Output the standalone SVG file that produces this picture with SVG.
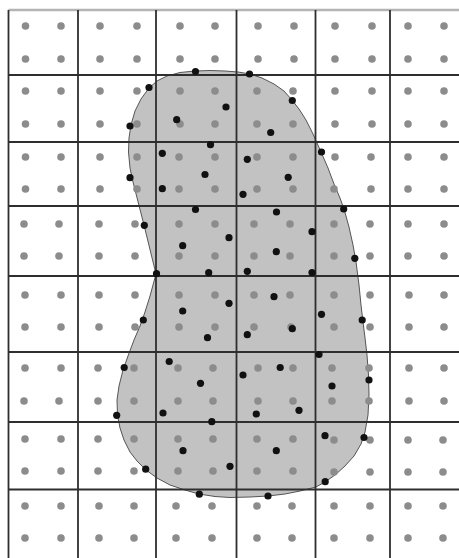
<svg xmlns="http://www.w3.org/2000/svg" width="459" height="558" viewBox="0 0 459 558">
<defs>
<style>
.g{fill:#8c8c8c}
.b{fill:#111}
.ln{stroke:#2e2e2e;stroke-width:1.8;fill:none}
</style>
<circle id="gd" r="3.8" class="g"/>
<circle id="bd" r="3.6" class="b"/>
</defs>
<rect width="459" height="558" fill="#fff"/>
<g id="blob">
<path d="M149,88 L157,81 L167,76 L180,72.5 L195,71 L210,70.5 L225,71 L238,72 L250,74 L262,78 L274,84 L284,91 L292,100 L299,109 L306,120 L313,134 L321,152 L328,168 L334,184 L340,198 L344,209 L349,227 L353,245 L356,262 L359,285 L361,305 L363,322 L365,338 L367,355 L368.5,375 L369,395 L368,415 L365,432 L361,444 L354,456 L345,466 L335,475 L325,482 L316,487 L300,491 L285,494 L268,496 L250,497 L230,497.5 L215,496.5 L199,494 L185,490 L170,485 L157,478 L146,470 L137,461 L130,452 L124,440 L120,428 L117.5,415 L117,400 L119,386 L123,370 L128,356 L134,340 L140,326 L145,312 L150,296 L156,274 L144,225 L133,182 L130,168 L128.5,152 L129,138 L131,125 L135,111 L141,99 Z" fill="#c2c2c2" stroke="#555" stroke-width="1" stroke-linejoin="round"/>
</g>
<g id="grid">
<line x1="8.5" y1="10" x2="459" y2="10" stroke="#b4b4b4" stroke-width="2.5"/>
<line class="ln" x1="8.5" y1="75" x2="459" y2="75"/>
<line class="ln" x1="8.5" y1="142" x2="459" y2="142"/>
<line class="ln" x1="8.5" y1="206" x2="459" y2="206"/>
<line class="ln" x1="8.5" y1="276" x2="459" y2="276"/>
<line class="ln" x1="8.5" y1="352" x2="459" y2="352"/>
<line class="ln" x1="8.5" y1="422" x2="459" y2="422"/>
<line class="ln" x1="8.5" y1="489.5" x2="459" y2="489.5"/>
<line class="ln" x1="8.5" y1="10" x2="8.5" y2="558"/>
<line class="ln" x1="78" y1="10" x2="78" y2="558"/>
<line class="ln" x1="156" y1="10" x2="156" y2="558"/>
<line class="ln" x1="236.5" y1="10" x2="236.5" y2="558"/>
<line class="ln" x1="315.5" y1="10" x2="315.5" y2="558"/>
<line class="ln" x1="390" y1="10" x2="390" y2="558"/>
</g>
<g id="grid-dots">
<g id="row1"><use href="#gd" x="25.5" y="26"/><use href="#gd" x="61" y="26"/><use href="#gd" x="100" y="26"/><use href="#gd" x="137" y="26"/><use href="#gd" x="180" y="26"/><use href="#gd" x="215" y="26"/><use href="#gd" x="258" y="26"/><use href="#gd" x="294" y="26"/><use href="#gd" x="335" y="26"/><use href="#gd" x="372" y="26"/><use href="#gd" x="408" y="26"/><use href="#gd" x="444" y="26"/></g>
<g id="row2"><use href="#gd" x="25.5" y="59"/><use href="#gd" x="61" y="59"/><use href="#gd" x="100" y="59"/><use href="#gd" x="137" y="59"/><use href="#gd" x="180" y="59"/><use href="#gd" x="215" y="59"/><use href="#gd" x="258" y="59"/><use href="#gd" x="294" y="59"/><use href="#gd" x="335" y="59"/><use href="#gd" x="372" y="59"/><use href="#gd" x="408" y="59"/><use href="#gd" x="444" y="59"/></g>
<g id="row3"><use href="#gd" x="25.5" y="91"/><use href="#gd" x="61" y="91"/><use href="#gd" x="100" y="91"/><use href="#gd" x="137" y="91"/><use href="#gd" x="180" y="91"/><use href="#gd" x="215" y="91"/><use href="#gd" x="257" y="91"/><use href="#gd" x="293" y="91"/><use href="#gd" x="335" y="91"/><use href="#gd" x="372" y="91"/><use href="#gd" x="408" y="91"/><use href="#gd" x="444" y="91"/></g>
<g id="row4"><use href="#gd" x="25.5" y="124"/><use href="#gd" x="61" y="124"/><use href="#gd" x="100" y="124"/><use href="#gd" x="137" y="124"/><use href="#gd" x="180" y="124"/><use href="#gd" x="215" y="124"/><use href="#gd" x="257" y="124"/><use href="#gd" x="293" y="124"/><use href="#gd" x="335" y="124"/><use href="#gd" x="372" y="124"/><use href="#gd" x="408" y="124"/><use href="#gd" x="444" y="124"/></g>
<g id="row5"><use href="#gd" x="25.5" y="157"/><use href="#gd" x="61" y="157"/><use href="#gd" x="100" y="157"/><use href="#gd" x="137" y="157"/><use href="#gd" x="179" y="157"/><use href="#gd" x="215" y="157"/><use href="#gd" x="257" y="157"/><use href="#gd" x="293" y="157"/><use href="#gd" x="335" y="157"/><use href="#gd" x="371" y="157"/><use href="#gd" x="408" y="157"/><use href="#gd" x="444" y="157"/></g>
<g id="row6"><use href="#gd" x="25.5" y="189"/><use href="#gd" x="61" y="189"/><use href="#gd" x="100" y="189"/><use href="#gd" x="137" y="189"/><use href="#gd" x="179" y="189"/><use href="#gd" x="215" y="189"/><use href="#gd" x="257" y="189"/><use href="#gd" x="293" y="189"/><use href="#gd" x="334" y="189"/><use href="#gd" x="371" y="189"/><use href="#gd" x="408" y="189"/><use href="#gd" x="444" y="189"/></g>
<g id="row7"><use href="#gd" x="24" y="224"/><use href="#gd" x="59" y="224"/><use href="#gd" x="99" y="224"/><use href="#gd" x="135" y="224"/><use href="#gd" x="179" y="224"/><use href="#gd" x="215" y="224"/><use href="#gd" x="254" y="224"/><use href="#gd" x="290" y="224"/><use href="#gd" x="334" y="224"/><use href="#gd" x="370" y="224"/><use href="#gd" x="408" y="224"/><use href="#gd" x="444" y="224"/></g>
<g id="row8"><use href="#gd" x="24" y="256"/><use href="#gd" x="59" y="256"/><use href="#gd" x="99" y="256"/><use href="#gd" x="135" y="256"/><use href="#gd" x="179" y="256"/><use href="#gd" x="215" y="256"/><use href="#gd" x="254" y="256"/><use href="#gd" x="290" y="256"/><use href="#gd" x="334" y="256"/><use href="#gd" x="370" y="256"/><use href="#gd" x="408" y="256"/><use href="#gd" x="444" y="256"/></g>
<g id="row9"><use href="#gd" x="25" y="295"/><use href="#gd" x="61" y="295"/><use href="#gd" x="99" y="295"/><use href="#gd" x="135" y="295"/><use href="#gd" x="179" y="295"/><use href="#gd" x="215" y="295"/><use href="#gd" x="254" y="295"/><use href="#gd" x="290" y="295"/><use href="#gd" x="334" y="295"/><use href="#gd" x="370" y="295"/><use href="#gd" x="409" y="295"/><use href="#gd" x="444" y="295"/></g>
<g id="row10"><use href="#gd" x="25" y="327"/><use href="#gd" x="61" y="327"/><use href="#gd" x="99" y="327"/><use href="#gd" x="135" y="327"/><use href="#gd" x="179" y="327"/><use href="#gd" x="215" y="327"/><use href="#gd" x="254" y="327"/><use href="#gd" x="291" y="327"/><use href="#gd" x="334" y="327"/><use href="#gd" x="370" y="327"/><use href="#gd" x="409" y="327"/><use href="#gd" x="444" y="327"/></g>
<g id="row11"><use href="#gd" x="25" y="368"/><use href="#gd" x="61" y="368"/><use href="#gd" x="98" y="368"/><use href="#gd" x="134" y="368"/><use href="#gd" x="178" y="368"/><use href="#gd" x="213" y="368"/><use href="#gd" x="258" y="368"/><use href="#gd" x="293" y="368"/><use href="#gd" x="332" y="368"/><use href="#gd" x="369" y="368"/><use href="#gd" x="409" y="368"/><use href="#gd" x="444" y="368"/></g>
<g id="row12"><use href="#gd" x="24" y="401"/><use href="#gd" x="59" y="401"/><use href="#gd" x="98" y="401"/><use href="#gd" x="134" y="401"/><use href="#gd" x="178" y="401"/><use href="#gd" x="213" y="401"/><use href="#gd" x="258" y="401"/><use href="#gd" x="293" y="401"/><use href="#gd" x="332" y="401"/><use href="#gd" x="369" y="401"/><use href="#gd" x="409" y="401"/><use href="#gd" x="444" y="401"/></g>
<g id="row13"><use href="#gd" x="25" y="439"/><use href="#gd" x="61" y="439"/><use href="#gd" x="98" y="439"/><use href="#gd" x="134" y="439"/><use href="#gd" x="178" y="439"/><use href="#gd" x="213" y="439"/><use href="#gd" x="257" y="439"/><use href="#gd" x="293" y="439"/><use href="#gd" x="334" y="440"/><use href="#gd" x="370" y="440"/><use href="#gd" x="408" y="440"/><use href="#gd" x="443" y="440"/></g>
<g id="row14"><use href="#gd" x="25" y="471"/><use href="#gd" x="61" y="471"/><use href="#gd" x="98" y="471"/><use href="#gd" x="134" y="471"/><use href="#gd" x="178" y="471"/><use href="#gd" x="213" y="471"/><use href="#gd" x="257" y="471"/><use href="#gd" x="293" y="471"/><use href="#gd" x="334" y="472"/><use href="#gd" x="370" y="472"/><use href="#gd" x="408" y="472"/><use href="#gd" x="443" y="472"/></g>
<g id="row15"><use href="#gd" x="25" y="506"/><use href="#gd" x="61" y="506"/><use href="#gd" x="99" y="506"/><use href="#gd" x="134" y="506"/><use href="#gd" x="176" y="506"/><use href="#gd" x="212" y="506"/><use href="#gd" x="257" y="506"/><use href="#gd" x="292" y="506"/><use href="#gd" x="334" y="506"/><use href="#gd" x="370" y="506"/><use href="#gd" x="408" y="506"/><use href="#gd" x="443" y="506"/></g>
<g id="row16"><use href="#gd" x="25" y="538"/><use href="#gd" x="61" y="538"/><use href="#gd" x="99" y="538"/><use href="#gd" x="134" y="538"/><use href="#gd" x="176" y="538"/><use href="#gd" x="212" y="538"/><use href="#gd" x="257" y="538"/><use href="#gd" x="292" y="538"/><use href="#gd" x="334" y="538"/><use href="#gd" x="370" y="538"/><use href="#gd" x="408" y="538"/><use href="#gd" x="443" y="538"/></g>
</g>
<g id="sample-points">
<use href="#bd" x="195.5" y="71.5"/><use href="#bd" x="249.5" y="74"/><use href="#bd" x="149" y="87.5"/><use href="#bd" x="226" y="107"/><use href="#bd" x="292.3" y="100.5"/><use href="#bd" x="176.7" y="119.7"/><use href="#bd" x="130" y="126"/><use href="#bd" x="270.7" y="132.5"/><use href="#bd" x="210.5" y="144.7"/><use href="#bd" x="162.3" y="153.3"/><use href="#bd" x="321.5" y="152"/><use href="#bd" x="247.3" y="159.3"/><use href="#bd" x="205" y="174.5"/><use href="#bd" x="130" y="177.7"/><use href="#bd" x="288.2" y="177.3"/><use href="#bd" x="162.3" y="188.7"/><use href="#bd" x="243" y="194.3"/><use href="#bd" x="195.5" y="209.5"/><use href="#bd" x="343.7" y="209"/><use href="#bd" x="276.5" y="212"/><use href="#bd" x="144.3" y="225.3"/><use href="#bd" x="229" y="237.7"/><use href="#bd" x="312" y="231.7"/><use href="#bd" x="182.7" y="245.7"/><use href="#bd" x="276.3" y="251.7"/><use href="#bd" x="354.8" y="258.3"/><use href="#bd" x="156.5" y="273.7"/><use href="#bd" x="208.7" y="272.7"/><use href="#bd" x="247.3" y="271.3"/><use href="#bd" x="312" y="272.5"/><use href="#bd" x="274" y="296.7"/><use href="#bd" x="229" y="303.3"/><use href="#bd" x="182.7" y="311"/><use href="#bd" x="143.3" y="320"/><use href="#bd" x="321.5" y="314.3"/><use href="#bd" x="362.2" y="320"/><use href="#bd" x="292.3" y="328.7"/><use href="#bd" x="247.3" y="334.7"/><use href="#bd" x="207.5" y="337.7"/><use href="#bd" x="319" y="354.5"/><use href="#bd" x="169.2" y="361.5"/><use href="#bd" x="124.2" y="367.5"/><use href="#bd" x="280.2" y="367.5"/><use href="#bd" x="243" y="375"/><use href="#bd" x="369" y="380"/><use href="#bd" x="332" y="386"/><use href="#bd" x="200.5" y="383.3"/><use href="#bd" x="116.7" y="415.3"/><use href="#bd" x="163" y="413"/><use href="#bd" x="211.8" y="421.7"/><use href="#bd" x="256.3" y="414"/><use href="#bd" x="299" y="410.3"/><use href="#bd" x="183" y="450.7"/><use href="#bd" x="325" y="435.7"/><use href="#bd" x="364" y="437.5"/><use href="#bd" x="276.3" y="450.7"/><use href="#bd" x="145.7" y="469.2"/><use href="#bd" x="230" y="466.3"/><use href="#bd" x="325.2" y="481.7"/><use href="#bd" x="199.3" y="494.2"/><use href="#bd" x="268" y="496"/>
</g>
</svg>
